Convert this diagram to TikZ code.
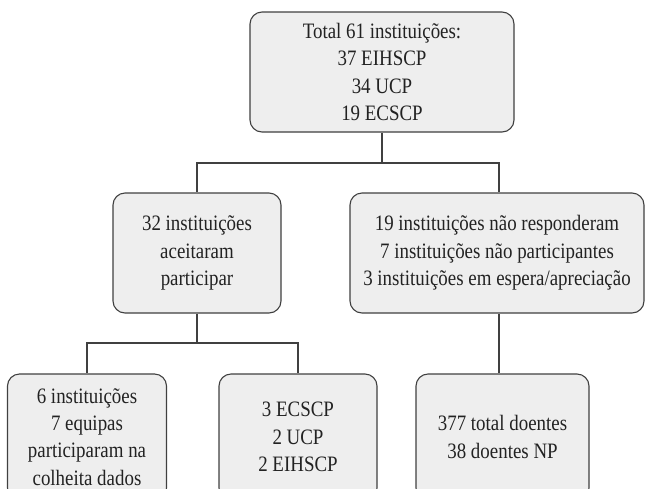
\documentclass[tikz,border=0pt]{standalone}
\usepackage{fontspec}
\setmainfont{Liberation Serif}[FakeStretch=0.86]
\definecolor{boxgray}{HTML}{EEEEEE}
\definecolor{linegray}{HTML}{404040}
\definecolor{textgray}{HTML}{222222}
\begin{document}
\begin{tikzpicture}[x=1pt,y=-1pt,
  box/.style={draw=linegray, fill=boxgray, line width=1.1pt, rounded corners=12pt,
    align=center, inner sep=0pt, text=textgray, font=\fontsize{22}{27.3}\selectfont},
  conn/.style={draw=linegray, line width=1.1pt}]
\useasboundingbox (0,0) rectangle (645,488);
\clip (0,0) rectangle (645,488);
\node[box, minimum width=264pt, minimum height=120pt] (top) at (382,72)
  {\raisebox{-3pt}{\parbox{250pt}{\centering Total 61 instituições:\\37 EIHSCP\\34 UCP\\19 ECSCP}}};
\node[box, minimum width=168pt, minimum height=120pt] (ml) at (197,253)
  {\raisebox{-3pt}{\parbox{160pt}{\centering 32 instituições\\aceitaram\\participar}}};
\node[box, minimum width=294pt, minimum height=120pt] (mr) at (497,253)
  {\raisebox{-3pt}{\parbox{290pt}{\centering 19 instituições não responderam\\7 instituições não participantes\\3 instituições em espera/apreciação}}};
\node[box, minimum width=159pt, minimum height=126pt] (bl) at (87,437)
  {6 instituições\\7 equipas\\participaram na\\colheita dados};
\node[box, minimum width=158pt, minimum height=126pt] (bm) at (298,437)
  {3 ECSCP\\2 UCP\\2 EIHSCP};
\node[box, minimum width=173pt, minimum height=126pt] (br) at (502.5,437)
  {377 total doentes\\38 doentes NP};
\coordinate (j1) at (382,163);
\coordinate (j2) at (197,343);
\draw[conn] (top.south) -- (j1);
\draw[conn] (j1) -| (ml.north);
\draw[conn] (j1) -| ([xshift=2pt]mr.north);
\draw[conn] (ml.south) -- (j2);
\draw[conn] (j2) -| (bl.north);
\draw[conn] (j2) -| (bm.north);
\draw[conn] ([xshift=2pt]mr.south) -- ([xshift=-3.5pt]br.north);
\end{tikzpicture}
\end{document}
